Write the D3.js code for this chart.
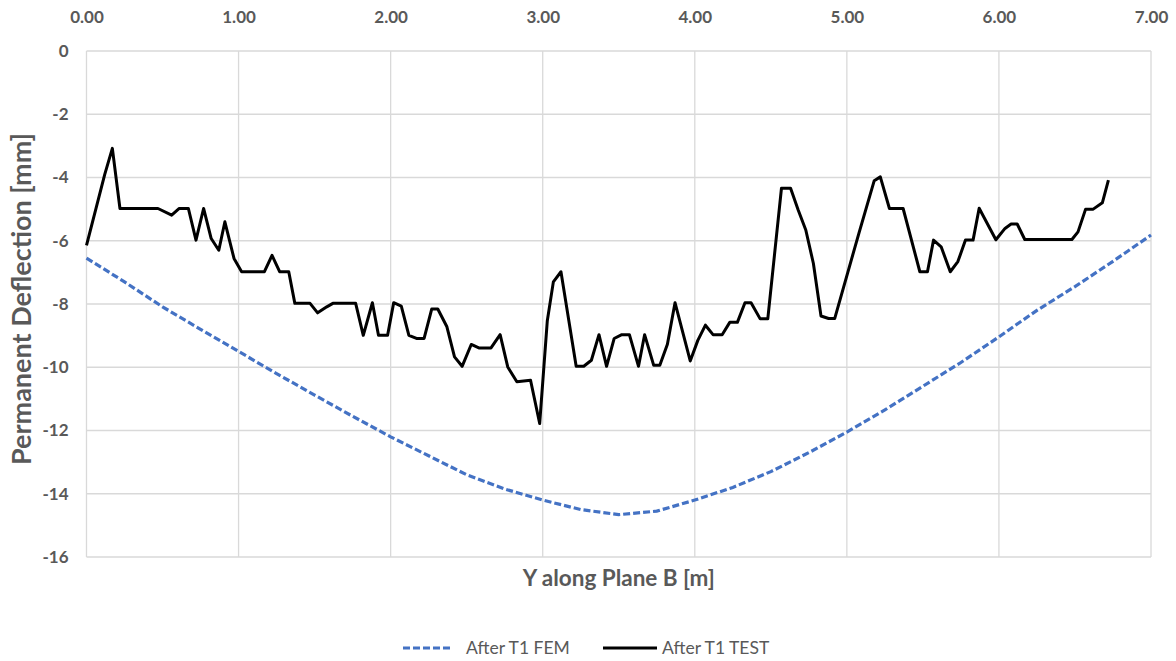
<!DOCTYPE html>
<html>
<head>
<meta charset="utf-8">
<script src="https://d3js.org/d3.v7.min.js"></script>
<style>
  body { margin: 0; background: #fff; }
  text { font-family: Lato, "Open Sans", sans-serif; }
  .tick text { fill: #595959; font-weight: bold; font-size: 17px; }
  .title { fill: #595959; font-weight: bold; font-size: 22.5px; }
  .ytitle { fill: #595959; font-weight: bold; font-size: 27px; }
  .legend { fill: #595959; font-size: 17.5px; }
</style>
</head>
<body>
<svg width="1176" height="661"></svg>
<script>
// FEM prediction, Y position [m] and deflection [mm]
const femX = [0, 0.25, 0.5, 0.75, 1.0, 1.25, 1.5, 1.75, 2.0, 2.25, 2.5, 2.75, 3.0, 3.25, 3.5,
              3.75, 4.0, 4.25, 4.5, 4.75, 5.0, 5.25, 5.5, 5.75, 6.0, 6.25, 6.5, 6.75, 7.0];
const femY = [-6.55, -7.3, -8.09, -8.8, -9.5, -10.2, -10.88, -11.55, -12.2, -12.8, -13.4, -13.85, -14.2, -14.5, -14.66,
              -14.55, -14.2, -13.8, -13.3, -12.7, -12.05, -11.35, -10.6, -9.85, -9.04, -8.2, -7.45, -6.65, -5.82];

// measured after T1
const testX = [0.00, 0.12, 0.17, 0.22, 0.47, 0.56, 0.61, 0.67, 0.72, 0.77, 0.82, 0.87, 0.91, 0.97, 1.02,
               1.17, 1.22, 1.27, 1.33, 1.37, 1.47, 1.52, 1.58, 1.62, 1.77, 1.82, 1.88, 1.92, 1.98, 2.02,
               2.07, 2.12, 2.17, 2.22, 2.27, 2.31, 2.37, 2.42, 2.47, 2.53, 2.58, 2.66, 2.72, 2.77, 2.83,
               2.92, 2.98, 3.03, 3.07, 3.12, 3.22, 3.27, 3.32, 3.37, 3.42, 3.47, 3.52, 3.57, 3.63, 3.67,
               3.73, 3.77, 3.82, 3.87, 3.97, 4.02, 4.07, 4.12, 4.18, 4.23, 4.28, 4.33, 4.37, 4.43, 4.48,
               4.57, 4.63, 4.68, 4.73, 4.78, 4.83, 4.88, 4.92, 5.08, 5.18, 5.22, 5.28, 5.37, 5.48, 5.53,
               5.57, 5.62, 5.68, 5.73, 5.78, 5.83, 5.87, 5.98, 6.04, 6.08, 6.12, 6.17, 6.48, 6.52, 6.57,
               6.62, 6.68, 6.72];
const testY = [-6.15, -3.9, -3.08, -4.98, -4.98, -5.19, -4.98, -4.98, -5.98, -4.98, -5.93, -6.3, -5.4, -6.56, -6.98,
               -6.98, -6.46, -6.98, -6.98, -7.98, -7.98, -8.28, -8.09, -7.98, -7.98, -8.99, -7.96, -8.99, -8.99, -7.96,
               -8.07, -8.99, -9.09, -9.09, -8.16, -8.16, -8.72, -9.67, -9.97, -9.28, -9.39, -9.39, -8.97, -9.99, -10.46,
               -10.41, -11.78, -8.54, -7.3, -6.98, -9.97, -9.97, -9.78, -8.97, -9.97, -9.09, -8.97, -8.97, -9.97, -8.97,
               -9.94, -9.94, -9.27, -7.96, -9.8, -9.15, -8.67, -8.97, -8.97, -8.58, -8.58, -7.96, -7.96, -8.47, -8.47,
               -4.34, -4.34, -5.03, -5.66, -6.72, -8.38, -8.46, -8.46, -5.75, -4.1, -3.98, -4.98, -4.98, -6.98, -6.98,
               -5.98, -6.19, -6.98, -6.66, -5.98, -5.98, -4.97, -5.97, -5.61, -5.47, -5.47, -5.96, -5.96, -5.72, -5.0,
               -5.0, -4.8, -4.08];

const xTicks = [0, 1, 2, 3, 4, 5, 6, 7];
const yTicks = [0, -2, -4, -6, -8, -10, -12, -14, -16];

const svg = d3.select("svg");
const mLeft = 86.5, mRight = 1151, mTop = 51, mBottom = 557;

const x = d3.scaleLinear().domain([0, 7]).range([mLeft, mRight]);
const y = d3.scaleLinear().domain([0, -16]).range([mTop, mBottom]);

// grid
svg.append("g").selectAll("line").data(xTicks).enter().append("line")
  .attr("x1", d => x(d)).attr("x2", d => x(d))
  .attr("y1", mTop).attr("y2", mBottom)
  .attr("stroke", "#d9d9d9").attr("stroke-width", 1.3);
svg.append("g").selectAll("line").data(yTicks).enter().append("line")
  .attr("x1", mLeft).attr("x2", mRight)
  .attr("y1", d => y(d)).attr("y2", d => y(d))
  .attr("stroke", "#d9d9d9").attr("stroke-width", 1.3);

// axes
const gx = svg.append("g").attr("transform", "translate(0," + mTop + ")")
  .call(d3.axisTop(x).tickValues(xTicks).tickFormat(d => d.toFixed(2)).tickSize(0).tickPadding(28));
const gy = svg.append("g").attr("transform", "translate(" + mLeft + ",0)")
  .call(d3.axisLeft(y).tickValues(yTicks).tickFormat(d => String(d)).tickSize(0).tickPadding(18));
gx.select(".domain").remove();
gy.select(".domain").remove();
gx.attr("font-family", null).attr("font-size", null);
gy.attr("font-family", null).attr("font-size", null);

// lines
const fem = femX.map((d, i) => [d, femY[i]]);
const test = testX.map((d, i) => [d, testY[i]]);
const line = d3.line().x(d => x(d[0])).y(d => y(d[1]));

svg.append("path").datum(fem).attr("d", line)
  .attr("fill", "none").attr("stroke", "#4472c4").attr("stroke-width", 3.2)
  .attr("stroke-dasharray", "7,3");
svg.append("path").datum(test).attr("d", line)
  .attr("fill", "none").attr("stroke", "#000").attr("stroke-width", 3)
  .attr("stroke-linejoin", "round");

// titles
svg.append("text").attr("class", "title")
  .attr("x", (mLeft + mRight) / 2).attr("y", 586).attr("text-anchor", "middle")
  .text("Y along Plane B [m]");
svg.append("text").attr("class", "ytitle")
  .attr("transform", "translate(31,299) rotate(-90)")
  .attr("text-anchor", "middle")
  .text("Permanent Deflection [mm]");

// legend
const leg = svg.append("g");
leg.append("line").attr("x1", 403).attr("x2", 453).attr("y1", 648).attr("y2", 648)
  .attr("stroke", "#4472c4").attr("stroke-width", 3.2).attr("stroke-dasharray", "7,3");
leg.append("text").attr("class", "legend").attr("x", 466).attr("y", 654).text("After T1 FEM");
leg.append("line").attr("x1", 603).attr("x2", 657).attr("y1", 648).attr("y2", 648)
  .attr("stroke", "#000").attr("stroke-width", 3);
leg.append("text").attr("class", "legend").attr("x", 662).attr("y", 654).text("After T1 TEST");
</script>
</body>
</html>
